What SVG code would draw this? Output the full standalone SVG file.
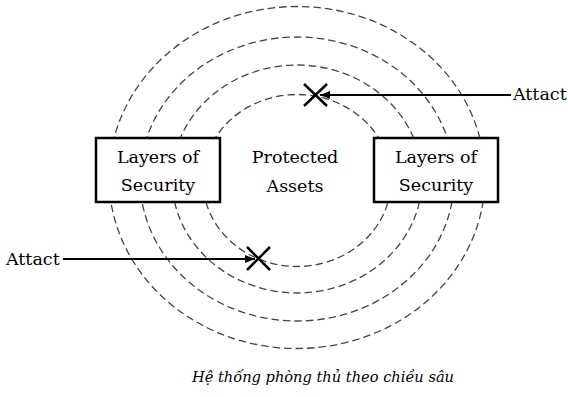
<svg xmlns="http://www.w3.org/2000/svg" width="568" height="397" viewBox="0 0 568 397">
<defs>
<marker id="ah" viewBox="0 0 10 8" refX="10" refY="4" markerWidth="10" markerHeight="8" markerUnits="userSpaceOnUse" orient="auto">
<path d="M0,0 L10,4 L0,8 Z" fill="#000"/>
</marker>
<style>
.ring{fill:none;stroke:#444;stroke-width:1.3;stroke-dasharray:7.5 4}
.box{fill:#fff;stroke:#000;stroke-width:2.5}
.t{font-family:"DejaVu Serif","Liberation Serif",serif;font-size:17.5px;fill:#000;text-anchor:middle}
.lbl{font-family:"DejaVu Serif","Liberation Serif",serif;font-size:17.5px;fill:#000}
.arrow{stroke:#000;stroke-width:2;fill:none}
.x{stroke:#000;stroke-width:2.5;fill:none}
.cap{font-family:"DejaVu Serif","Liberation Serif",serif;font-style:italic;font-size:14px;fill:#000}
</style>
</defs>
<rect width="568" height="397" fill="#fff"/>
<g id="rings">
<ellipse class="ring" cx="297" cy="180.5" rx="94" ry="86"/>
<ellipse class="ring" cx="297" cy="179" rx="125" ry="114"/>
<ellipse class="ring" cx="297" cy="179" rx="157" ry="142"/>
<ellipse class="ring" cx="297" cy="177.5" rx="188" ry="171"/>
</g>
<g id="assets">
<text class="t" x="295" y="163">Protected</text>
<text class="t" x="295" y="192">Assets</text>
</g>
<g id="layers-left">
<rect class="box" x="96" y="138" width="124" height="64"/>
<text class="t" x="158" y="163">Layers of</text>
<text class="t" x="158" y="191">Security</text>
</g>
<g id="layers-right">
<rect class="box" x="374" y="138" width="124" height="64"/>
<text class="t" x="436" y="163">Layers of</text>
<text class="t" x="436" y="191">Security</text>
</g>
<g id="connectors">
<line class="arrow" x1="511" y1="95" x2="320" y2="95" marker-end="url(#ah)"/>
<line class="arrow" x1="63" y1="259" x2="255" y2="259" marker-end="url(#ah)"/>
</g>
<g id="hit-top">
<path class="x" d="M304,84 L327,106 M327,84 L304,106"/>
</g>
<g id="hit-bottom">
<path class="x" d="M247,247 L270,270 M270,247 L247,270"/>
</g>
<g id="attack-top">
<text class="lbl" x="513" y="100">Attact</text>
</g>
<g id="attack-left">
<text class="lbl" x="6" y="265">Attact</text>
</g>
<g id="caption">
<text class="cap" x="192" y="382" textLength="262" lengthAdjust="spacingAndGlyphs">Hệ thống phòng thủ theo chiều sâu</text>
</g>
</svg>
